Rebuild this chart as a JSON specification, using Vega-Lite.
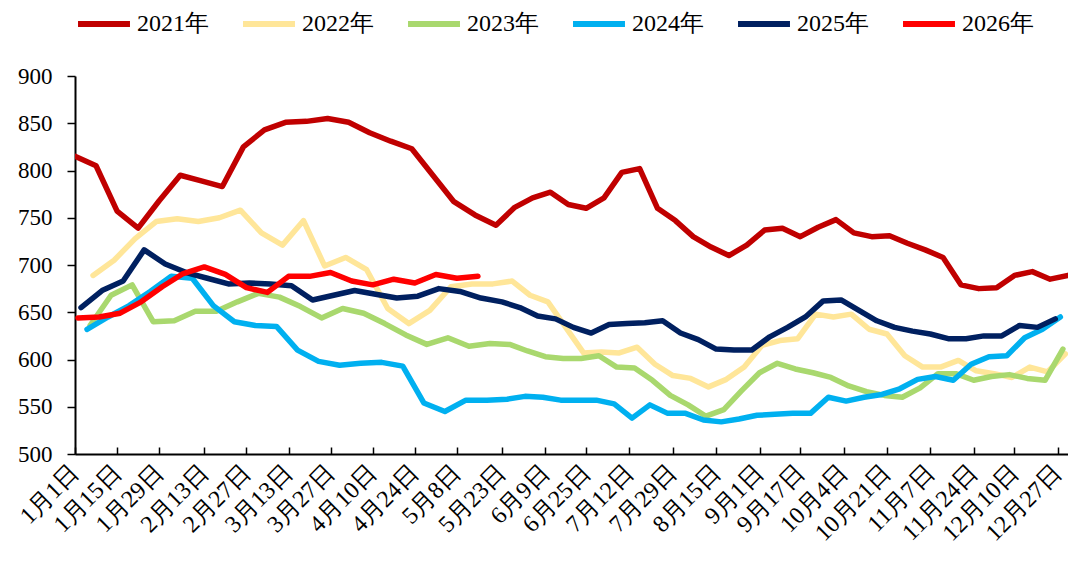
{
 "$schema": "https://vega.github.io/schema/vega-lite/v6.json",
 "width": 993, "height": 378,
 "autosize": {"type": "none"},
 "padding": {"left": 75, "top": 76, "right": 0, "bottom": 109},
 "background": "white",
 "config": {"view": {"stroke": null}, "font": "Liberation Serif"},
 "datasets": {
  "prices": [
{"year":"2021年","date":"2021-01-01","value":815},{"year":"2021年","date":"2021-01-08","value":805},{"year":"2021年","date":"2021-01-15","value":757},{"year":"2021年","date":"2021-01-22","value":739},{"year":"2021年","date":"2021-01-29","value":768},{"year":"2021年","date":"2021-02-05","value":795},{"year":"2021年","date":"2021-02-12","value":789},{"year":"2021年","date":"2021-02-19","value":783},{"year":"2021年","date":"2021-02-26","value":825},{"year":"2021年","date":"2021-03-05","value":843},{"year":"2021年","date":"2021-03-12","value":851},{"year":"2021年","date":"2021-03-19","value":852},{"year":"2021年","date":"2021-03-26","value":855},{"year":"2021年","date":"2021-04-02","value":851},{"year":"2021年","date":"2021-04-09","value":840},{"year":"2021年","date":"2021-04-16","value":831},{"year":"2021年","date":"2021-04-23","value":823},{"year":"2021年","date":"2021-04-30","value":795},{"year":"2021年","date":"2021-05-07","value":767},{"year":"2021年","date":"2021-05-14","value":753},{"year":"2021年","date":"2021-05-21","value":742},{"year":"2021年","date":"2021-05-28","value":761},{"year":"2021年","date":"2021-06-04","value":771},{"year":"2021年","date":"2021-06-11","value":777},{"year":"2021年","date":"2021-06-18","value":764},{"year":"2021年","date":"2021-06-25","value":760},{"year":"2021年","date":"2021-07-02","value":771},{"year":"2021年","date":"2021-07-09","value":798},{"year":"2021年","date":"2021-07-16","value":802},{"year":"2021年","date":"2021-07-23","value":760},{"year":"2021年","date":"2021-07-30","value":747},{"year":"2021年","date":"2021-08-06","value":730},{"year":"2021年","date":"2021-08-13","value":719},{"year":"2021年","date":"2021-08-20","value":710},{"year":"2021年","date":"2021-08-27","value":721},{"year":"2021年","date":"2021-09-03","value":737},{"year":"2021年","date":"2021-09-10","value":739},{"year":"2021年","date":"2021-09-17","value":730},{"year":"2021年","date":"2021-09-24","value":740},{"year":"2021年","date":"2021-10-01","value":748},{"year":"2021年","date":"2021-10-08","value":734},{"year":"2021年","date":"2021-10-15","value":730},{"year":"2021年","date":"2021-10-22","value":731},{"year":"2021年","date":"2021-10-29","value":723},{"year":"2021年","date":"2021-11-05","value":716},{"year":"2021年","date":"2021-11-12","value":708},{"year":"2021年","date":"2021-11-19","value":679},{"year":"2021年","date":"2021-11-26","value":675},{"year":"2021年","date":"2021-12-03","value":676},{"year":"2021年","date":"2021-12-10","value":689},{"year":"2021年","date":"2021-12-17","value":693},{"year":"2021年","date":"2021-12-24","value":685},{"year":"2021年","date":"2021-12-31","value":689},
{"year":"2022年","date":"2022-01-07","value":689},{"year":"2022年","date":"2022-01-14","value":705},{"year":"2022年","date":"2022-01-21","value":728},{"year":"2022年","date":"2022-01-28","value":746},{"year":"2022年","date":"2022-02-04","value":749},{"year":"2022年","date":"2022-02-11","value":746},{"year":"2022年","date":"2022-02-18","value":750},{"year":"2022年","date":"2022-02-25","value":758},{"year":"2022年","date":"2022-03-04","value":734},{"year":"2022年","date":"2022-03-11","value":721},{"year":"2022年","date":"2022-03-18","value":747},{"year":"2022年","date":"2022-03-25","value":699},{"year":"2022年","date":"2022-04-01","value":708},{"year":"2022年","date":"2022-04-08","value":695},{"year":"2022年","date":"2022-04-15","value":654},{"year":"2022年","date":"2022-04-22","value":638},{"year":"2022年","date":"2022-04-29","value":652},{"year":"2022年","date":"2022-05-06","value":677},{"year":"2022年","date":"2022-05-13","value":680},{"year":"2022年","date":"2022-05-20","value":680},{"year":"2022年","date":"2022-05-27","value":683},{"year":"2022年","date":"2022-06-03","value":668},{"year":"2022年","date":"2022-06-10","value":661},{"year":"2022年","date":"2022-06-17","value":634},{"year":"2022年","date":"2022-06-24","value":607},{"year":"2022年","date":"2022-07-01","value":608},{"year":"2022年","date":"2022-07-08","value":607},{"year":"2022年","date":"2022-07-15","value":613},{"year":"2022年","date":"2022-07-22","value":595},{"year":"2022年","date":"2022-07-29","value":583},{"year":"2022年","date":"2022-08-05","value":580},{"year":"2022年","date":"2022-08-12","value":571},{"year":"2022年","date":"2022-08-19","value":579},{"year":"2022年","date":"2022-08-26","value":592},{"year":"2022年","date":"2022-09-02","value":615},{"year":"2022年","date":"2022-09-09","value":620},{"year":"2022年","date":"2022-09-16","value":622},{"year":"2022年","date":"2022-09-23","value":648},{"year":"2022年","date":"2022-09-30","value":645},{"year":"2022年","date":"2022-10-07","value":648},{"year":"2022年","date":"2022-10-14","value":632},{"year":"2022年","date":"2022-10-21","value":627},{"year":"2022年","date":"2022-10-28","value":604},{"year":"2022年","date":"2022-11-04","value":592},{"year":"2022年","date":"2022-11-11","value":592},{"year":"2022年","date":"2022-11-18","value":599},{"year":"2022年","date":"2022-11-25","value":588},{"year":"2022年","date":"2022-12-02","value":585},{"year":"2022年","date":"2022-12-09","value":581},{"year":"2022年","date":"2022-12-16","value":592},{"year":"2022年","date":"2022-12-23","value":587},{"year":"2022年","date":"2022-12-30","value":606},
{"year":"2023年","date":"2023-01-06","value":636},{"year":"2023年","date":"2023-01-13","value":668},{"year":"2023年","date":"2023-01-20","value":679},{"year":"2023年","date":"2023-01-27","value":640},{"year":"2023年","date":"2023-02-03","value":641},{"year":"2023年","date":"2023-02-10","value":651},{"year":"2023年","date":"2023-02-17","value":651},{"year":"2023年","date":"2023-02-24","value":661},{"year":"2023年","date":"2023-03-03","value":670},{"year":"2023年","date":"2023-03-10","value":666},{"year":"2023年","date":"2023-03-17","value":656},{"year":"2023年","date":"2023-03-24","value":644},{"year":"2023年","date":"2023-03-31","value":654},{"year":"2023年","date":"2023-04-07","value":649},{"year":"2023年","date":"2023-04-14","value":638},{"year":"2023年","date":"2023-04-21","value":626},{"year":"2023年","date":"2023-04-28","value":616},{"year":"2023年","date":"2023-05-05","value":623},{"year":"2023年","date":"2023-05-12","value":614},{"year":"2023年","date":"2023-05-19","value":617},{"year":"2023年","date":"2023-05-26","value":616},{"year":"2023年","date":"2023-06-02","value":609},{"year":"2023年","date":"2023-06-09","value":603},{"year":"2023年","date":"2023-06-16","value":601},{"year":"2023年","date":"2023-06-23","value":601},{"year":"2023年","date":"2023-06-30","value":604},{"year":"2023年","date":"2023-07-07","value":592},{"year":"2023年","date":"2023-07-14","value":591},{"year":"2023年","date":"2023-07-21","value":578},{"year":"2023年","date":"2023-07-28","value":562},{"year":"2023年","date":"2023-08-04","value":552},{"year":"2023年","date":"2023-08-11","value":540},{"year":"2023年","date":"2023-08-18","value":547},{"year":"2023年","date":"2023-08-25","value":567},{"year":"2023年","date":"2023-09-01","value":586},{"year":"2023年","date":"2023-09-08","value":596},{"year":"2023年","date":"2023-09-15","value":590},{"year":"2023年","date":"2023-09-22","value":586},{"year":"2023年","date":"2023-09-29","value":581},{"year":"2023年","date":"2023-10-06","value":572},{"year":"2023年","date":"2023-10-13","value":566},{"year":"2023年","date":"2023-10-20","value":562},{"year":"2023年","date":"2023-10-27","value":560},{"year":"2023年","date":"2023-11-03","value":570},{"year":"2023年","date":"2023-11-10","value":585},{"year":"2023年","date":"2023-11-17","value":585},{"year":"2023年","date":"2023-11-24","value":578},{"year":"2023年","date":"2023-12-01","value":582},{"year":"2023年","date":"2023-12-08","value":584},{"year":"2023年","date":"2023-12-15","value":580},{"year":"2023年","date":"2023-12-22","value":578},{"year":"2023年","date":"2023-12-29","value":611},
{"year":"2024年","date":"2024-01-05","value":632},{"year":"2024年","date":"2024-01-12","value":645},{"year":"2024年","date":"2024-01-19","value":657},{"year":"2024年","date":"2024-01-26","value":672},{"year":"2024年","date":"2024-02-02","value":688},{"year":"2024年","date":"2024-02-09","value":686},{"year":"2024年","date":"2024-02-16","value":657},{"year":"2024年","date":"2024-02-23","value":640},{"year":"2024年","date":"2024-03-01","value":636},{"year":"2024年","date":"2024-03-08","value":635},{"year":"2024年","date":"2024-03-15","value":610},{"year":"2024年","date":"2024-03-22","value":598},{"year":"2024年","date":"2024-03-29","value":594},{"year":"2024年","date":"2024-04-05","value":596},{"year":"2024年","date":"2024-04-12","value":597},{"year":"2024年","date":"2024-04-19","value":593},{"year":"2024年","date":"2024-04-26","value":554},{"year":"2024年","date":"2024-05-03","value":545},{"year":"2024年","date":"2024-05-10","value":557},{"year":"2024年","date":"2024-05-17","value":557},{"year":"2024年","date":"2024-05-24","value":558},{"year":"2024年","date":"2024-05-31","value":561},{"year":"2024年","date":"2024-06-07","value":560},{"year":"2024年","date":"2024-06-14","value":557},{"year":"2024年","date":"2024-06-21","value":557},{"year":"2024年","date":"2024-06-28","value":557},{"year":"2024年","date":"2024-07-05","value":553},{"year":"2024年","date":"2024-07-12","value":538},{"year":"2024年","date":"2024-07-19","value":552},{"year":"2024年","date":"2024-07-26","value":543},{"year":"2024年","date":"2024-08-02","value":543},{"year":"2024年","date":"2024-08-09","value":536},{"year":"2024年","date":"2024-08-16","value":534},{"year":"2024年","date":"2024-08-23","value":537},{"year":"2024年","date":"2024-08-30","value":541},{"year":"2024年","date":"2024-09-06","value":542},{"year":"2024年","date":"2024-09-13","value":543},{"year":"2024年","date":"2024-09-20","value":543},{"year":"2024年","date":"2024-09-27","value":560},{"year":"2024年","date":"2024-10-04","value":556},{"year":"2024年","date":"2024-10-11","value":560},{"year":"2024年","date":"2024-10-18","value":563},{"year":"2024年","date":"2024-10-25","value":569},{"year":"2024年","date":"2024-11-01","value":579},{"year":"2024年","date":"2024-11-08","value":582},{"year":"2024年","date":"2024-11-15","value":578},{"year":"2024年","date":"2024-11-22","value":595},{"year":"2024年","date":"2024-11-29","value":603},{"year":"2024年","date":"2024-12-06","value":604},{"year":"2024年","date":"2024-12-13","value":623},{"year":"2024年","date":"2024-12-20","value":632},{"year":"2024年","date":"2024-12-27","value":645},
{"year":"2025年","date":"2025-01-03","value":655},{"year":"2025年","date":"2025-01-10","value":673},{"year":"2025年","date":"2025-01-17","value":683},{"year":"2025年","date":"2025-01-24","value":716},{"year":"2025年","date":"2025-01-31","value":701},{"year":"2025年","date":"2025-02-07","value":692},{"year":"2025年","date":"2025-02-14","value":686},{"year":"2025年","date":"2025-02-21","value":680},{"year":"2025年","date":"2025-02-28","value":681},{"year":"2025年","date":"2025-03-07","value":680},{"year":"2025年","date":"2025-03-14","value":678},{"year":"2025年","date":"2025-03-21","value":663},{"year":"2025年","date":"2025-03-28","value":668},{"year":"2025年","date":"2025-04-04","value":673},{"year":"2025年","date":"2025-04-11","value":669},{"year":"2025年","date":"2025-04-18","value":665},{"year":"2025年","date":"2025-04-25","value":667},{"year":"2025年","date":"2025-05-02","value":675},{"year":"2025年","date":"2025-05-09","value":672},{"year":"2025年","date":"2025-05-16","value":665},{"year":"2025年","date":"2025-05-23","value":661},{"year":"2025年","date":"2025-05-30","value":655},{"year":"2025年","date":"2025-06-06","value":646},{"year":"2025年","date":"2025-06-13","value":643},{"year":"2025年","date":"2025-06-20","value":634},{"year":"2025年","date":"2025-06-27","value":628},{"year":"2025年","date":"2025-07-04","value":637},{"year":"2025年","date":"2025-07-11","value":638},{"year":"2025年","date":"2025-07-18","value":639},{"year":"2025年","date":"2025-07-25","value":641},{"year":"2025年","date":"2025-08-01","value":628},{"year":"2025年","date":"2025-08-08","value":621},{"year":"2025年","date":"2025-08-15","value":611},{"year":"2025年","date":"2025-08-22","value":610},{"year":"2025年","date":"2025-08-29","value":610},{"year":"2025年","date":"2025-09-05","value":624},{"year":"2025年","date":"2025-09-12","value":634},{"year":"2025年","date":"2025-09-19","value":645},{"year":"2025年","date":"2025-09-26","value":662},{"year":"2025年","date":"2025-10-03","value":663},{"year":"2025年","date":"2025-10-10","value":652},{"year":"2025年","date":"2025-10-17","value":641},{"year":"2025年","date":"2025-10-24","value":634},{"year":"2025年","date":"2025-10-31","value":630},{"year":"2025年","date":"2025-11-07","value":627},{"year":"2025年","date":"2025-11-14","value":622},{"year":"2025年","date":"2025-11-21","value":622},{"year":"2025年","date":"2025-11-28","value":625},{"year":"2025年","date":"2025-12-05","value":625},{"year":"2025年","date":"2025-12-12","value":636},{"year":"2025年","date":"2025-12-19","value":634},{"year":"2025年","date":"2025-12-26","value":643},
{"year":"2026年","date":"2026-01-02","value":644},{"year":"2026年","date":"2026-01-09","value":645},{"year":"2026年","date":"2026-01-16","value":649},{"year":"2026年","date":"2026-01-23","value":661},{"year":"2026年","date":"2026-01-30","value":677},{"year":"2026年","date":"2026-02-06","value":691},{"year":"2026年","date":"2026-02-13","value":698},{"year":"2026年","date":"2026-02-20","value":690},{"year":"2026年","date":"2026-02-27","value":676},{"year":"2026年","date":"2026-03-06","value":671},{"year":"2026年","date":"2026-03-13","value":688},{"year":"2026年","date":"2026-03-20","value":688},{"year":"2026年","date":"2026-03-27","value":692},{"year":"2026年","date":"2026-04-03","value":683},{"year":"2026年","date":"2026-04-10","value":679},{"year":"2026年","date":"2026-04-17","value":685},{"year":"2026年","date":"2026-04-24","value":681},{"year":"2026年","date":"2026-05-01","value":690},{"year":"2026年","date":"2026-05-08","value":686},{"year":"2026年","date":"2026-05-15","value":688}
  ]
 },
 "data": {"name": "prices"},
 "transform": [
  {"calculate": "utcdayofyear(toDate(datum.date))", "as": "day"}
 ],
 "mark": {"type": "line", "strokeWidth": 5.5, "strokeJoin": "round", "strokeCap": "round", "clip": true},
 "encoding": {
  "x": {
   "field": "day", "type": "quantitative",
   "scale": {"nice": false, "zero": false, "domain": [1, 143, 365], "range": [0, 427, 993]},
   "axis": {
    "title": null, "grid": false,
    "values": [1, 15, 29, 44, 58, 72, 86, 100, 114, 128, 143, 160, 176, 193, 210, 227, 244, 260, 277, 294, 311, 328, 344, 361],
    "labelExpr": "timeFormat(datetime(2021, 0, datum.value), '%-m月%-d日')",
    "labelAngle": -45, "labelAlign": "right", "labelBaseline": "middle",
    "labelFont": "Liberation Serif", "labelFontSize": 24, "labelColor": "black",
    "labelPadding": 22, "labelOverlap": false, "labelBound": false, "labelFlush": false,
    "tickSize": -7, "tickColor": "black", "tickWidth": 1.5,
    "domainColor": "black", "domainWidth": 2
   }
  },
  "y": {
   "field": "value", "type": "quantitative",
   "scale": {"domain": [500, 900], "nice": false, "zero": false},
   "axis": {
    "title": null, "grid": false,
    "values": [500, 550, 600, 650, 700, 750, 800, 850, 900],
    "labelFont": "Liberation Serif", "labelFontSize": 23, "labelColor": "black", "labelPadding": 15,
    "tickSize": 8, "tickColor": "black", "tickWidth": 1.5,
    "domainColor": "black", "domainWidth": 2
   }
  },
  "color": {
   "field": "year", "type": "nominal",
   "scale": {
    "domain": ["2021年", "2022年", "2023年", "2024年", "2025年", "2026年"],
    "range": ["#C00000", "#FFE699", "#A9D86E", "#00B0F0", "#002060", "#FF0000"]
   },
   "legend": {
    "orient": "top", "direction": "horizontal", "title": null,
    "symbolType": "stroke", "symbolSize": 2700, "symbolStrokeWidth": 6,
    "labelFont": "Liberation Serif", "labelFontSize": 24, "labelColor": "black", "labelOffset": 4,
    "columnPadding": 22, "offset": 40
   }
  }
 }
}
